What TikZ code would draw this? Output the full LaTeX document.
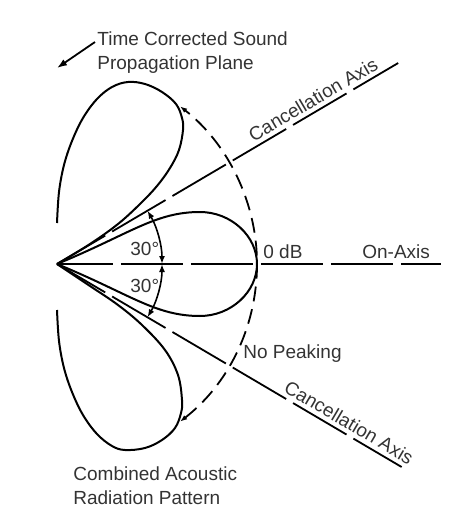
\documentclass[tikz,border=0pt]{standalone}
\usepackage{fontspec}
\setmainfont{Liberation Sans}
\usetikzlibrary{shapes,arrows,arrows.meta,positioning,calc}

\begin{document}
\begin{tikzpicture}[x=0.5pt, y=0.5pt]
    \tikzset{lobe/.style={line width=1pt, line join=round}}
    \tikzset{axisline/.style={line width=0.9pt, dash pattern=on 31pt off 4pt, dash phase=3pt}}
    \tikzset{dasharc/.style={line width=0.9pt, dash pattern=on 7.5pt off 4pt, {Latex[length=3.5pt,width=2.6pt]}-{Latex[length=3.5pt,width=2.6pt]}}}
    \tikzset{anglearrow/.style={line width=0.8pt, {Latex[length=4pt,width=3pt]}-{Latex[length=4pt,width=3pt]}}}
    \tikzset{pointer/.style={line width=0.9pt, -{Latex[length=5pt,width=3.6pt]}}}
    \tikzset{lbl/.style={inner sep=0pt, text=black!80, font=\fontsize{9.5}{12}\selectfont}}
    \useasboundingbox (0,0) rectangle (457,516);

    % Apex and axes
    \coordinate (apex) at (57,252);
    \coordinate (axisend) at (441,252);
    \coordinate (cancelup) at ($(apex)+(30.5:396)$);
    \coordinate (canceldown) at ($(apex)+(-30.5:400)$);
    \draw[axisline] (apex) -- (axisend);
    \draw[axisline] (apex) -- (cancelup)
        node[lbl, pos=0.768, sloped, above, inner sep=2pt] (cancelupname) {Cancellation Axis};
    \draw[axisline] (apex) -- (canceldown)
        node[lbl, pos=0.83, sloped, above, inner sep=2pt] (canceldownname) {Cancellation Axis};

    % Side lobes
    \draw[lobe] plot[smooth, tension=0.6] coordinates {(57,293) (59,324) (64,351) (72,375) (83,398) (97,417) (112,429) (128,434) (145,432) (162,424) (176,412) (182,398) (183,386) (179,366) (170,348) (157,330) (140,312) (118,292) (90,272) (57,252)};
    \draw[lobe] plot[smooth, tension=0.6] coordinates {(57,206) (59,175) (64,148) (72,124) (83,101) (97,82) (112,70) (125,66) (145,68) (162,76) (175,88) (181,103) (182,116) (178,141) (165,166) (142,191) (118,211) (90,230) (57,252)};

    % Main lobe
    \draw[lobe] (apex) .. controls (130,282) and (155,304) .. (200,304)
        .. controls (231,304) and (257,280) .. (257,252)
        .. controls (257,224) and (231,200) .. (200,200)
        .. controls (155,200) and (130,222) .. (apex);

    % 0 dB circle and angles
    \draw[dasharc] (apex) ++(-52:200) arc[start angle=-52, end angle=52, radius=200];
    \draw[anglearrow] (apex) ++(0:105) arc[start angle=0, end angle=30.5, radius=105];
    \draw[anglearrow] (apex) ++(0:105) arc[start angle=0, end angle=-30.5, radius=105];

    % Labels
    \node[lbl, anchor=base west] (degup) at (130,261) {30°};
    \node[lbl, anchor=base west] (degdown) at (130,224) {30°};
    \node[lbl, anchor=base west] (zerodb) at (263,258) {0 dB};
    \node[lbl, anchor=base west] (onaxis) at (362,258) {On-Axis};
    \node[lbl, anchor=base west] (nopeak) at (243,158) {No Peaking};
    \node[lbl, anchor=north west, align=left] (combined) at (73,50) {Combined Acoustic\\Radiation Pattern};

    % Propagation plane
    \node[lbl, anchor=north west, align=left] (plane) at (97,485) {Time Corrected Sound\\Propagation Plane};
    \coordinate (planetip) at (57,448);
    \draw[pointer] ([xshift=-1pt, yshift=-5.5pt]plane.north west) -- (planetip);
\end{tikzpicture}
\end{document}
